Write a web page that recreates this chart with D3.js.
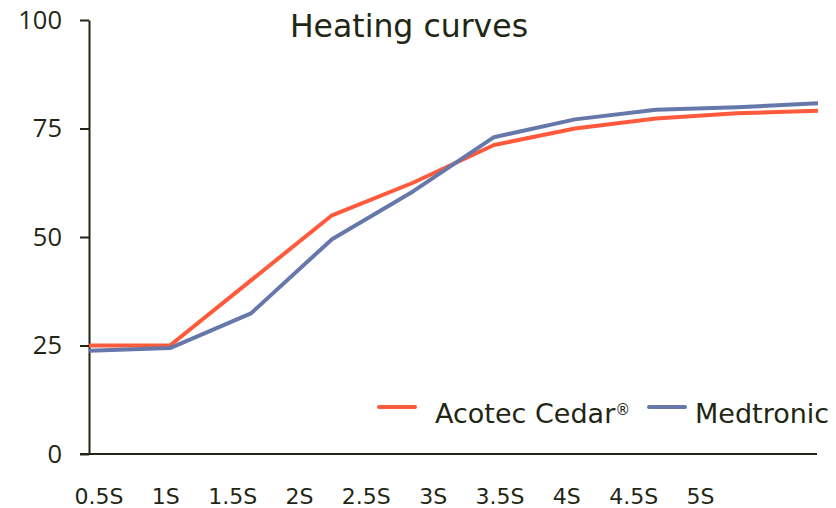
<!DOCTYPE html>
<html>
<head>
<meta charset="utf-8">
<script src="https://cdn.jsdelivr.net/npm/d3@7"></script>
<style>
  html, body { margin: 0; padding: 0; background: #fff; }
  svg { display: block; }
</style>
</head>
<body>
<svg id="chart" width="836" height="508"></svg>
<script>
const timeLabels = ["0.5S", "1S", "1.5S", "2S", "2.5S", "3S", "3.5S", "4S", "4.5S", "5S"];
const seriesNames = ["Acotec Cedar®", "Medtronic"];
const acotecValues = [25, 25, 40, 55, 62.5, 71.2, 75, 77.3, 78.5, 79.1];
const medtronicValues = [23.8, 24.4, 32.4, 49.5, 60.5, 73, 77.1, 79.3, 79.9, 80.8];
const yTicks = [0, 25, 50, 75, 100];
const colors = ["#ff5a3c", "#6677aa"];
const axisColor = "#1f2714";

const svg = d3.select("#chart");
const plotLeft = 89, plotRight = 818, plotTop = 20, plotBottom = 454;

const y = d3.scaleLinear().domain([0, 100]).range([plotBottom, plotTop]);
const xData = d3.scalePoint().domain(d3.range(acotecValues.length)).range([plotLeft, plotRight]);
const xLabel = d3.scalePoint().domain(timeLabels).range([98.5, 700]);

// Y axis
const yAxis = svg.append("g")
  .attr("transform", `translate(${plotLeft},0)`)
  .call(d3.axisLeft(y).tickValues(yTicks).tickSize(9).tickSizeOuter(0).tickPadding(18));
yAxis.select(".domain").attr("stroke", axisColor).attr("stroke-width", 2);
yAxis.selectAll(".tick line").attr("stroke", axisColor).attr("stroke-width", 2);
yAxis.selectAll(".tick text")
  .attr("fill", axisColor)
  .style("font-family", "'Open Sans', 'Noto Sans', sans-serif")
  .style("font-size", "25.5px");

// X axis baseline
svg.append("line")
  .attr("x1", 80).attr("x2", 817)
  .attr("y1", y(0)).attr("y2", y(0))
  .attr("stroke", axisColor).attr("stroke-width", 2);

// X axis labels
const xAxis = svg.append("g")
  .attr("transform", `translate(0,${y(0)})`)
  .call(d3.axisBottom(xLabel).tickSize(0).tickPadding(34));
xAxis.select(".domain").remove();
xAxis.selectAll(".tick text")
  .attr("fill", axisColor)
  .style("font-family", "'DejaVu Sans', sans-serif")
  .style("font-size", "22px");

// Lines
const line = d3.line().x((d, i) => xData(i)).y(d => y(d));
[acotecValues, medtronicValues].forEach((vals, k) => {
  svg.append("path")
    .datum(vals)
    .attr("fill", "none")
    .attr("stroke", colors[k])
    .attr("stroke-width", 4)
    .attr("stroke-linejoin", "round")
    .attr("d", line);
});

// Title
svg.append("text")
  .attr("x", 409).attr("y", 37)
  .attr("text-anchor", "middle")
  .attr("fill", axisColor)
  .style("font-family", "'DejaVu Sans', sans-serif")
  .style("font-size", "31.5px")
  .text("Heating curves");

// Legend
const legendItems = [
  { name: "Acotec Cedar", sup: "®", color: colors[0], x: 379, tx: 435 },
  { name: "Medtronic", sup: "", color: colors[1], x: 649, tx: 695 }
];
legendItems.forEach(item => {
  svg.append("line")
    .attr("x1", item.x).attr("x2", item.x + 36)
    .attr("y1", 407).attr("y2", 407)
    .attr("stroke", item.color).attr("stroke-width", 4)
    .attr("stroke-linecap", "round");
  const t = svg.append("text")
    .attr("x", item.tx).attr("y", 423)
    .attr("fill", axisColor)
    .style("font-family", "'DejaVu Sans', sans-serif")
    .style("font-size", "27px");
  t.append("tspan").text(item.name);
  if (item.sup) {
    t.append("tspan").attr("dy", -8).style("font-size", "15px").text(item.sup);
  }
});
</script>
</body>
</html>
